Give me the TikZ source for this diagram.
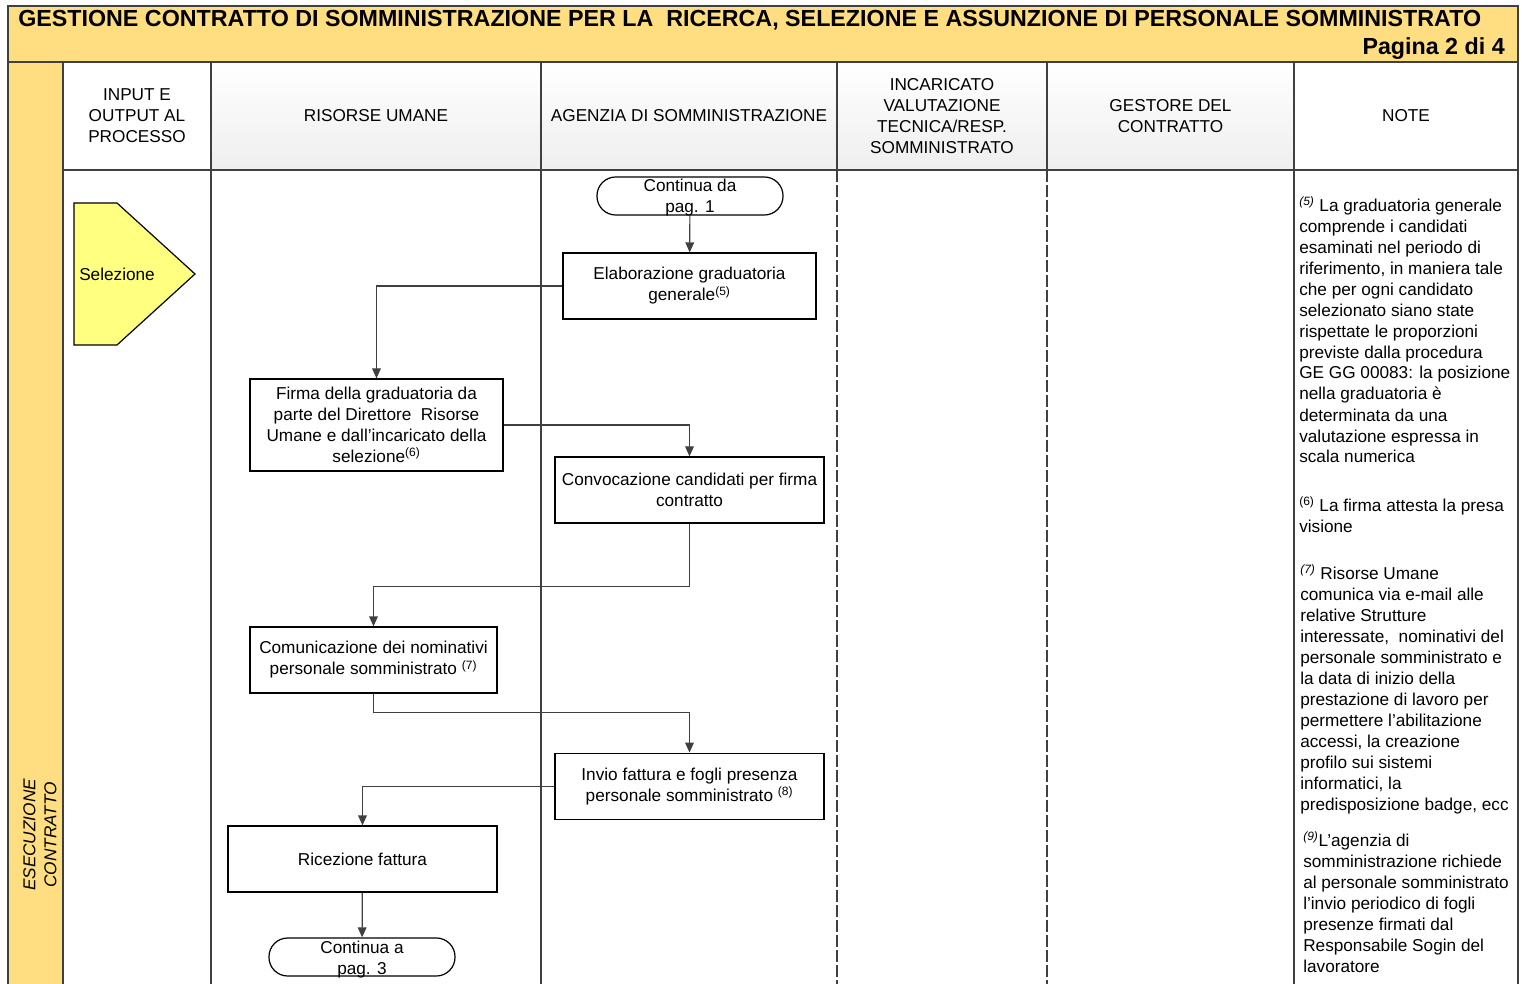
\documentclass[tikz,border=0pt]{standalone}
\usepackage{fontspec}
\setmainfont{Liberation Sans}
\usetikzlibrary{arrows.meta}
\definecolor{bandyellow}{RGB}{255,222,130}
\definecolor{selyellow}{RGB}{255,255,128}
\definecolor{linegray}{RGB}{64,64,64}
\newcommand\txt{\fontsize{12.9pt}{15.75pt}\selectfont}
\newcommand\ttl{\fontsize{17.45pt}{20pt}\selectfont\bfseries}

\begin{document}
\begin{tikzpicture}[x=0.75pt,y=-0.75pt,
    every node/.style={font=\txt,inner sep=0pt,align=center},
    band/.style={draw=linegray,fill=bandyellow,line width=1pt},
    sep/.style={linegray,line width=1pt},
    dsep/.style={linegray,line width=1pt,dash pattern=on 9pt off 2.25pt},
    task/.style={draw=black,line width=0.9pt,minimum height=49.5pt,minimum width=#1},
    term/.style={draw=black,line width=0.9pt,rounded corners=14pt,minimum width=139.5pt,
      text height=27pt,text depth=1.5pt},
    flow/.style={linegray,line width=0.9pt,-{Triangle[length=7.5pt,width=6.5pt]}},
    note/.style={anchor=base west,align=left}]
  \useasboundingbox (0,0) rectangle (1522,984);

  % header band and phase band
  \filldraw[band] (8,6) rectangle (1518,62);
  \filldraw[band] (8,62) rectangle (63,1000);
  \node[anchor=base west,font=\ttl] (title) at (18,27)
    {GESTIONE CONTRATTO DI SOMMINISTRAZIONE PER LA\ \ RICERCA, SELEZIONE E ASSUNZIONE DI PERSONALE SOMMINISTRATO};
  \node[anchor=base east,font=\ttl] (page) at (1505,55) {Pagina 2 di 4};
  \node[rotate=90,font=\txt\itshape] (phase) at (40,835) {ESECUZIONE\\CONTRATTO};

  % lanes
  \foreach \xa/\xb/\bot/\lbl [count=\i] in {63/211/white/{INPUT E\\OUTPUT AL\\PROCESSO},
      211/541/gray!13/{RISORSE UMANE}, 541/837/gray!13/{AGENZIA DI SOMMINISTRAZIONE},
      837/1047/gray!13/{INCARICATO\\VALUTAZIONE\\TECNICA/RESP.\\SOMMINISTRATO},
      1047/1294/gray!13/{GESTORE DEL\\CONTRATTO}, 1294/1518/white/{NOTE}}{
    \draw[sep,top color=white,bottom color=\bot] (\xa,62) rectangle (\xb,170);
    \node (h\i) at ({(\xa+\xb)/2},116) {\lbl};
  }
  \foreach \x in {211,541,1294,1518}
    \draw[sep] (\x,170) -- (\x,1000);
  \foreach \x in {837,1047}
    \draw[dsep] (\x,170) -- (\x,1000);

  % input
  \filldraw[draw=black,fill=selyellow,line width=0.9pt]
    (74,203) -- (117,203) -- (195,274) -- (117,345) -- (74,345) -- cycle;
  \node[anchor=west] (sel) at (79,274) {Selezione};

  % flow
  \node[term] (cont1) at (690,196) {Continua da\\pag. 1};
  \node[task=189.75pt] (elab) at (689.5,286) {Elaborazione graduatoria\\generale\textsuperscript{(5)}};
  \node[task=189.75pt,minimum height=69pt] (firma) at (376.5,425)
    {Firma della graduatoria da\\parte del Direttore\ \ Risorse\\Umane e dall’incaricato della\\selezione\textsuperscript{(6)}};
  \node[task=201.75pt] (conv) at (689.5,490) {Convocazione candidati per firma\\contratto};
  \node[task=185.25pt] (comu) at (373.5,660) {Comunicazione dei nominativi\\personale somministrato \textsuperscript{(7)}};
  \node[task=201.75pt,minimum height=50pt] (invio) at (689.5,786.5)
    {Invio fattura e fogli presenza\\personale somministrato \textsuperscript{(8)}};
  \node[task=201.75pt] (ricez) at (362.5,859) {Ricezione fattura};
  \node[term] (cont3) at (362,957) {Continua a\\pag. 3};

  \draw[flow] (cont1) -- (elab);
  \draw[flow] (elab.west) -| (firma.north);
  \draw[flow] (firma.east) -| (conv.north);
  \draw[flow] (conv.south) -- ++(0,63) -| (comu.north);
  \draw[flow] (comu.south) -- ++(0,19) -| (invio.north);
  \draw[flow] (invio.west) -| (ricez.north);
  \draw[flow] (ricez) -- (cont3);

  % notes (placed at the baseline of their last line)
  \node[note] (n5) at (1299,463) {\textsuperscript{\itshape(5)} La graduatoria generale\\comprende i candidati\\esaminati nel periodo di\\riferimento, in maniera tale\\che per ogni candidato\\selezionato siano state\\rispettate le proporzioni\\previste dalla procedura\\GE GG 00083: la posizione\\nella graduatoria è\\determinata da una\\valutazione espressa in\\scala numerica};
  \node[note] (n6) at (1299,532) {\textsuperscript{(6)} La firma attesta la presa\\visione};
  \node[note] (n7) at (1300,810) {\textsuperscript{\itshape(7)} Risorse Umane\\comunica via e-mail alle\\relative Strutture\\interessate,\ \ nominativi del\\personale somministrato e\\la data di inizio della\\prestazione di lavoro per\\permettere l’abilitazione\\accessi, la creazione\\profilo sui sistemi\\informatici, la\\predisposizione badge, ecc};
  \node[note] (n9) at (1303,972) {\textsuperscript{\itshape(9)}L’agenzia di\\somministrazione richiede\\al personale somministrato\\l’invio periodico di fogli\\presenze firmati dal\\Responsabile Sogin del\\lavoratore};
\end{tikzpicture}
\end{document}
